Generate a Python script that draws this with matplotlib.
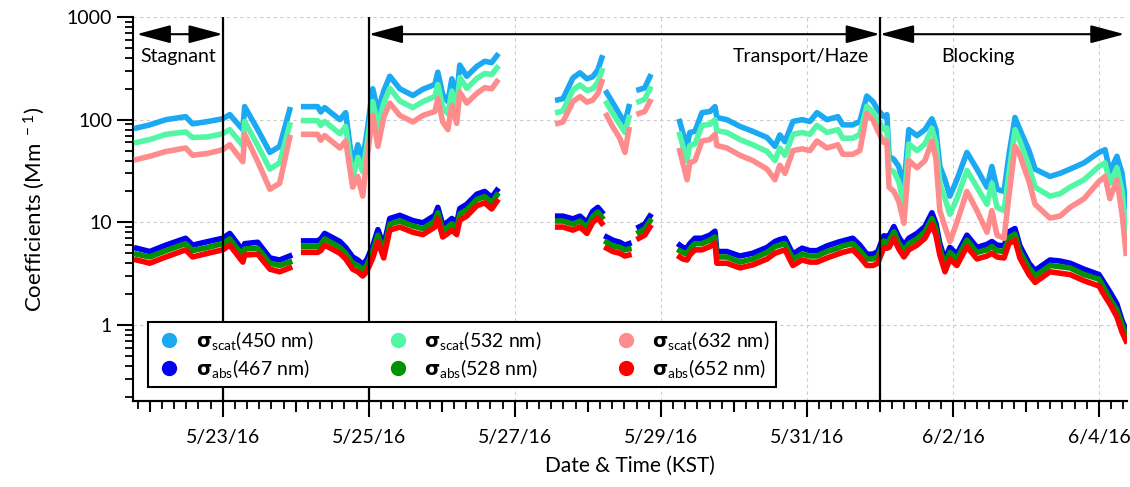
import numpy as np
import pandas as pd
import matplotlib
matplotlib.use("Agg")
import matplotlib.pyplot as plt
import matplotlib.dates as mdates
from matplotlib.lines import Line2D
from matplotlib.ticker import FuncFormatter, LogLocator, NullFormatter, FixedLocator

plt.rcParams["font.family"] = ["Lato", "DejaVu Sans"]
plt.rcParams["mathtext.default"] = "regular"

nan = np.nan

# hours since 2016-05-23 00:00 KST (nan rows break the line at data gaps)
hours = [
    -28.3, -24.0, -18.7, -12.2, -9.9, -4.9, 0.0, 2.3, 6.6, 7.2, 11.5, 15.5, 18.7, 22.0,
    24.0,
    26.6, 31.2, 32.2, 33.5, 38.5, 40.4, 42.7, 44.4, 46.0, 47.3, 49.3, 51.0, 52.9, 54.9,
    58.2, 62.5, 65.8, 69.7, 70.7, 72.3, 74.0, 75.3, 76.9, 77.9, 80.2, 83.5, 86.1, 88.4, 90.1,
    100.0,
    110.1, 111.8, 115.1, 117.4, 119.7, 121.6, 123.3, 124.6,
    125.4,
    126.2, 128.2, 130.5, 132.2, 133.5,
    135.0,
    136.8, 138.7, 140.4,
    145.0,
    150.2, 151.2, 152.6, 153.5, 155.2, 157.5, 160.1, 161.8, 162.4, 165.7, 170.0, 174.2,
    178.9, 181.5, 183.1, 184.8, 187.4, 190.4, 193.0, 195.3, 198.6, 202.2, 203.8, 207.1,
    209.4, 211.7, 213.7, 215.3, 217.3, 218.3, 219.0, 220.6, 222.2, 223.9, 225.5, 228.2,
    230.8, 233.1, 234.4, 235.7, 237.4, 239.0, 241.3, 244.6, 247.9, 251.2, 252.8, 254.5,
    256.8, 258.4, 260.4, 262.0, 265.0, 267.0, 271.9, 275.2, 278.5, 283.1, 288.0, 290.0,
    291.6, 293.9, 295.6, 296.9,
]

scat450 = [
    83, 89, 100, 107, 91, 96, 102, 112, 80, 134, 80, 48, 55, 125,
    nan,
    134, 134, 119, 131, 100, 117, 35, 57, 41, 72, 200, 120, 190, 265, 200, 172, 198, 220,
    290, 175, 150, 250, 168, 340, 265, 330, 370, 360, 420,
    nan,
    156, 160, 255, 286, 250, 262, 306, 400,
    nan,
    183, 146, 112, 93, 134,
    nan,
    196, 204, 262,
    nan,
    96, 75, 55, 75, 77, 117, 120, 134, 105, 100, 86, 77, 67, 55, 71, 61, 96, 100, 96, 117,
    100, 107, 89, 89, 96, 170, 150, 125, 107, 112, 44, 41, 35, 22, 80, 70, 80, 102, 80, 35,
    26, 18, 26, 48, 33, 22, 35, 21, 20, 45, 105, 80, 50, 33, 28, 30, 33, 38, 48, 51,
    31, 44, 30, 14,
]

scat532 = [
    60, 64, 72, 76, 67, 68, 73, 80, 56, 96, 56, 33, 38, 89,
    nan,
    98, 98, 88, 96, 73, 86, 27, 43, 31, 54, 150, 85, 145, 202, 152, 131, 150, 168,
    220, 133, 114, 190, 128, 258, 202, 252, 282, 275, 320,
    nan,
    118, 122, 195, 218, 192, 200, 232, 300,
    nan,
    145, 115, 90, 75, 105,
    nan,
    150, 158, 200,
    nan,
    72, 56, 40, 56, 58, 88, 90, 100, 78, 75, 64, 57, 49, 40, 53, 45, 72, 75, 72, 88,
    75, 80, 66, 66, 72, 135, 120, 100, 80, 83, 33, 31, 25, 14.5, 58, 50, 58, 82, 60, 24,
    17, 12, 17, 32, 22, 15, 24, 14, 13, 30, 80, 62, 35, 22, 18, 19, 22, 26, 35, 38,
    24, 34, 20, 8,
]

scat632 = [
    41, 44, 49, 53, 45, 47, 51, 57, 39, 72, 39, 21, 24, 67,
    nan,
    72, 72, 63, 70, 53, 62, 22, 28, 18, 40, 110, 55, 105, 145, 110, 95, 110, 120,
    160, 95, 80, 138, 92, 185, 145, 180, 205, 200, 235,
    nan,
    92, 95, 150, 168, 148, 155, 180, 235,
    nan,
    110, 85, 66, 48, 80,
    nan,
    115, 120, 150,
    nan,
    50, 38, 26, 38, 40, 62, 64, 72, 56, 53, 45, 40, 33, 26, 36, 30, 50, 52, 50, 62,
    53, 57, 46, 46, 50, 115, 100, 78, 60, 62, 22, 20, 16, 9.8, 40, 34, 40, 62, 42, 13,
    9, 6.5, 10, 20, 13, 8, 13, 7.5, 7, 18, 55, 45, 25, 15, 11, 11.5, 14, 17, 25, 28,
    17, 26, 12, 5,
]

abs467 = [
    5.6, 5.2, 6.0, 7.0, 6.0, 6.5, 7.0, 7.8, 5.3, 6.2, 6.4, 4.5, 4.3, 4.7,
    nan,
    6.6, 6.6, 6.9, 7.8, 6.5, 5.7, 4.6, 4.3, 3.9, 4.3, 5.9, 8.5, 5.9, 10.9, 11.7, 10.4, 9.9, 11.7,
    14.0, 9.4, 10.1, 10.9, 9.9, 13.6, 15.0, 18.8, 20.0, 17.5, 20.5,
    nan,
    11.5, 11.5, 10.8, 11.5, 10.0, 12.8, 14.0, 12.6,
    nan,
    7.2, 6.7, 6.4, 6.0, 6.2,
    nan,
    9.0, 9.6, 11.5,
    nan,
    6.0, 5.7, 5.6, 6.2, 7.0, 7.0, 7.5, 8.2, 5.2, 5.2, 4.7, 5.0, 5.7, 6.5, 6.8, 7.0, 4.9, 5.6, 5.3, 5.3,
    5.9, 6.4, 6.6, 7.0, 6.0, 4.9, 4.9, 5.2, 7.4, 7.3, 7.4, 9.1, 7.2, 6.0, 7.0, 7.8, 9.1, 12.4, 9.8, 6.2,
    4.3, 5.7, 4.9, 7.5, 5.7, 6.1, 6.5, 6.0, 5.9, 8.1, 8.7, 5.9, 4.0, 3.4, 4.3, 4.2, 4.0, 3.5, 3.1, 2.5,
    2.1, 1.6, 1.1, 0.9,
]

abs528 = [
    4.9, 4.6, 5.3, 6.2, 5.3, 5.7, 6.2, 6.9, 4.7, 5.5, 5.6, 4.0, 3.8, 4.1,
    nan,
    5.8, 5.8, 6.1, 6.9, 5.7, 5.0, 4.0, 3.8, 3.4, 3.8, 5.2, 7.5, 5.2, 9.6, 10.3, 9.2, 8.7, 10.3,
    12.4, 8.3, 9.0, 9.7, 8.7, 12.1, 13.2, 16.7, 17.8, 15.5, 18.4,
    nan,
    10.3, 10.3, 9.6, 10.3, 8.9, 11.4, 12.6, 11.2,
    nan,
    6.4, 5.9, 5.7, 5.4, 5.5,
    nan,
    8.0, 8.6, 10.3,
    nan,
    5.3, 5.1, 4.9, 5.5, 6.2, 6.2, 6.7, 7.2, 4.6, 4.6, 4.1, 4.4, 5.1, 5.8, 6.0, 6.2, 4.4, 4.9, 4.7, 4.7,
    5.2, 5.6, 5.9, 6.2, 5.3, 4.4, 4.4, 4.6, 6.6, 6.4, 6.6, 8.1, 6.3, 5.3, 6.2, 6.9, 8.1, 10.9, 8.6, 5.5,
    3.8, 5.1, 4.4, 6.7, 5.1, 5.4, 5.8, 5.3, 5.2, 7.1, 7.7, 5.2, 3.6, 3.0, 3.8, 3.7, 3.6, 3.1, 2.8, 2.2,
    1.8, 1.4, 1.0, 0.8,
]

abs652 = [
    4.3, 4.0, 4.6, 5.4, 4.6, 5.0, 5.4, 6.0, 4.1, 4.8, 4.9, 3.5, 3.3, 3.6,
    nan,
    5.1, 5.1, 5.3, 6.0, 5.0, 4.4, 3.5, 3.3, 3.0, 3.3, 4.5, 6.5, 4.5, 8.4, 9.0, 8.0, 7.6, 9.0,
    10.8, 7.2, 7.8, 8.4, 7.6, 10.5, 11.5, 14.5, 15.5, 13.5, 16.0,
    nan,
    9.0, 9.0, 8.4, 9.0, 7.8, 10.0, 11.0, 9.8,
    nan,
    5.6, 5.2, 5.0, 4.7, 4.8,
    nan,
    7.0, 7.5, 9.0,
    nan,
    4.6, 4.4, 4.3, 4.8, 5.4, 5.4, 5.8, 6.3, 4.0, 4.0, 3.6, 3.85, 4.4, 5.0, 5.2, 5.4, 3.8, 4.3, 4.1, 4.1,
    4.5, 4.9, 5.1, 5.4, 4.6, 3.8, 3.8, 4.0, 5.7, 5.6, 5.7, 7.0, 5.5, 4.6, 5.4, 6.0, 7.0, 9.5, 7.5, 4.8,
    3.3, 4.4, 3.8, 5.8, 4.4, 4.7, 5.0, 4.6, 4.5, 6.2, 6.7, 4.5, 3.1, 2.6, 3.3, 3.2, 3.1, 2.7, 2.4, 1.9,
    1.6, 1.2, 0.85, 0.7,
]

labels = [
    r"$\mathbf{\sigma}_{scat}$(450 nm)", r"$\mathbf{\sigma}_{abs}$(467 nm)",
    r"$\mathbf{\sigma}_{scat}$(532 nm)", r"$\mathbf{\sigma}_{abs}$(528 nm)",
    r"$\mathbf{\sigma}_{scat}$(632 nm)", r"$\mathbf{\sigma}_{abs}$(652 nm)",
]
colors = ["#1aa9f2", "#0000f5", "#52f7a6", "#009200", "#ff8c8c", "#ff0000"]

# periods: (start hour, end hour, name)
periods = [(-28.3, 0.0, "Stagnant"), (48.0, 216.0, "Transport/Haze"), (216.0, 296.4, "Blocking")]

base = pd.Timestamp("2016-05-23")
def to_num(h):
    return mdates.date2num((base + pd.to_timedelta(np.asarray(h, dtype=float), unit="h")).to_pydatetime())

t = to_num(hours)

fig = plt.figure(figsize=(11.3, 4.87), dpi=100)
ax = fig.add_axes([0.1177, 0.1766, 0.8796, 0.7885])

lw = 4.0
for vals, c in [(abs467, colors[1]), (abs528, colors[3]), (abs652, colors[5]),
                (scat450, colors[0]), (scat532, colors[2]), (scat632, colors[4])]:
    ax.plot(t, vals, color=c, lw=lw, solid_joinstyle="round", zorder=3)

ax.set_yscale("log")
ax.set_ylim(0.182, 1000)
ax.set_xlim(to_num(-29.5), to_num(297.2))

# x ticks: labelled every 2 days, medium every day, minor every 4 h
even_days = [24 * d for d in range(0, 13, 2)]
odd_days = [24 * d for d in range(-1, 13, 2)]
ax.xaxis.set_major_locator(FixedLocator(to_num(even_days)))
ax.xaxis.set_minor_locator(mdates.HourLocator(byhour=range(0, 24, 4)))
ax.xaxis.set_major_formatter(FuncFormatter(
    lambda x, p: f"{mdates.num2date(x).month}/{mdates.num2date(x).day}/16"))

sec = ax.secondary_xaxis("bottom")
sec.set_xticks(to_num(odd_days))
sec.tick_params(axis="x", direction="out", length=8, width=1.5, labelbottom=False)
sec.spines["bottom"].set_linewidth(1.5)

ax.yaxis.set_major_locator(LogLocator(base=10, numticks=10))
ax.yaxis.set_minor_locator(LogLocator(base=10, subs=np.arange(2, 10), numticks=20))
ax.yaxis.set_major_formatter(FuncFormatter(lambda v, p: f"{v:g}" if v >= 1 else ""))
ax.yaxis.set_minor_formatter(NullFormatter())

ax.tick_params(axis="both", which="major", direction="out", length=11.5, width=1.5,
               labelsize=14, color="black")
ax.tick_params(axis="both", which="minor", direction="out", length=5.5, width=1.3)
ax.tick_params(axis="x", which="major", pad=9, labelsize=14)

for s in ["top", "right"]:
    ax.spines[s].set_visible(False)
for s in ["left", "bottom"]:
    ax.spines[s].set_linewidth(1.5)

# grid
grid_style = dict(color="#cccccc", lw=0.8, ls=(0, (3, 3)), zorder=1)
for v in [1, 10, 100, 1000]:
    ax.axhline(v, **grid_style)
for h in even_days:
    ax.axvline(to_num(h), **grid_style)

# period boundaries
for h in [0.0, 48.0, 216.0]:
    ax.axvline(to_num(h), color="black", lw=1.6, zorder=5)

y_arrow = 680
for h0, h1, name in periods:
    ax.annotate("", xy=(to_num(h1), y_arrow), xytext=(to_num(h0), y_arrow),
                arrowprops=dict(arrowstyle="<|-|>,head_length=1.5,head_width=0.4",
                                color="black", lw=1.5, shrinkA=0, shrinkB=0,
                                mutation_scale=14), zorder=6)
ax.text(to_num(-27.2), 410, "Stagnant", fontsize=14, ha="left", va="center")
ax.text(to_num(212.5), 410, "Transport/Haze", fontsize=14, ha="right", va="center")
ax.text(to_num(248.3), 410, "Blocking", fontsize=14, ha="center", va="center")

ax.set_xlabel("Date & Time (KST)", fontsize=15, labelpad=7)
ax.set_ylabel("Coefficients (Mm$^{\\ -1}$)", fontsize=16, labelpad=14)

handles = [Line2D([], [], marker="o", ls="none", color=c, markersize=10) for c in colors]
leg = ax.legend(handles, labels, ncol=3, loc="upper left", bbox_to_anchor=(0.015, 0.205),
                borderaxespad=0, fontsize=14, frameon=True, fancybox=False,
                edgecolor="black", framealpha=1, handletextpad=0.6, columnspacing=3.6,
                labelspacing=0.25, borderpad=0.35, handlelength=1.5)
leg.get_frame().set_linewidth(1.5)
leg.set_zorder(10)

fig.savefig("out.png", dpi=100)
